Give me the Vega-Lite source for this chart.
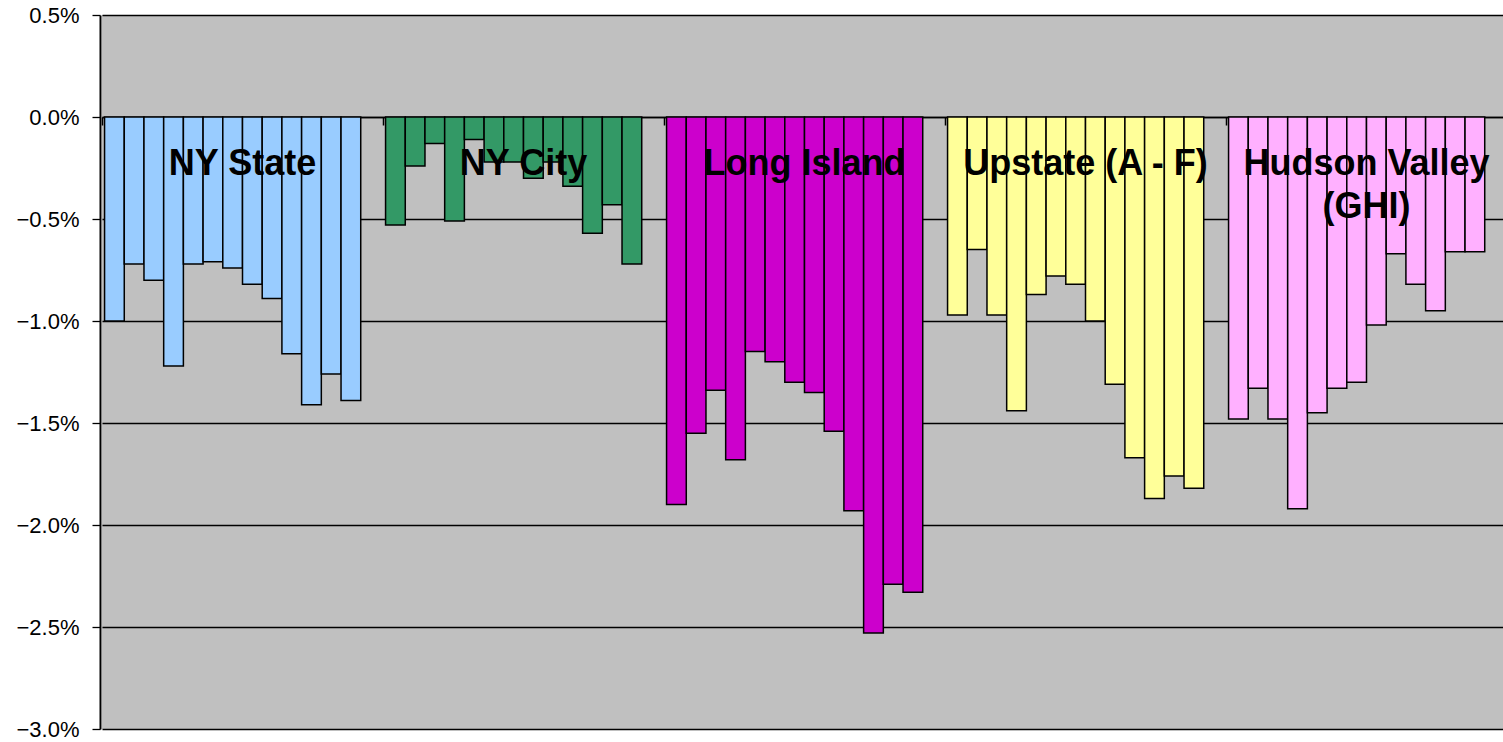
{
  "$schema": "https://vega.github.io/schema/vega-lite/v6.json",
  "width": 1405,
  "height": 714,
  "autosize": {"type": "none"},
  "padding": {"left": 102, "top": 15, "right": 0, "bottom": 13},
  "background": "white",
  "config": {"view": {"fill": "#C0C0C0", "stroke": null}, "font": "Liberation Sans"},
  "datasets": {
    "bars": [
      {"region": "NY State", "i": 1, "value": -0.0100},
      {"region": "NY State", "i": 2, "value": -0.0072},
      {"region": "NY State", "i": 3, "value": -0.0080},
      {"region": "NY State", "i": 4, "value": -0.0122},
      {"region": "NY State", "i": 5, "value": -0.0072},
      {"region": "NY State", "i": 6, "value": -0.0071},
      {"region": "NY State", "i": 7, "value": -0.0074},
      {"region": "NY State", "i": 8, "value": -0.0082},
      {"region": "NY State", "i": 9, "value": -0.0089},
      {"region": "NY State", "i": 10, "value": -0.0116},
      {"region": "NY State", "i": 11, "value": -0.0141},
      {"region": "NY State", "i": 12, "value": -0.0126},
      {"region": "NY State", "i": 13, "value": -0.0139},
      {"region": "NY City", "i": 1, "value": -0.0053},
      {"region": "NY City", "i": 2, "value": -0.0024},
      {"region": "NY City", "i": 3, "value": -0.0013},
      {"region": "NY City", "i": 4, "value": -0.0051},
      {"region": "NY City", "i": 5, "value": -0.0011},
      {"region": "NY City", "i": 6, "value": -0.0022},
      {"region": "NY City", "i": 7, "value": -0.0022},
      {"region": "NY City", "i": 8, "value": -0.0030},
      {"region": "NY City", "i": 9, "value": -0.0022},
      {"region": "NY City", "i": 10, "value": -0.0034},
      {"region": "NY City", "i": 11, "value": -0.0057},
      {"region": "NY City", "i": 12, "value": -0.0043},
      {"region": "NY City", "i": 13, "value": -0.0072},
      {"region": "Long Island", "i": 1, "value": -0.0190},
      {"region": "Long Island", "i": 2, "value": -0.0155},
      {"region": "Long Island", "i": 3, "value": -0.0134},
      {"region": "Long Island", "i": 4, "value": -0.0168},
      {"region": "Long Island", "i": 5, "value": -0.0115},
      {"region": "Long Island", "i": 6, "value": -0.0120},
      {"region": "Long Island", "i": 7, "value": -0.0130},
      {"region": "Long Island", "i": 8, "value": -0.0135},
      {"region": "Long Island", "i": 9, "value": -0.0154},
      {"region": "Long Island", "i": 10, "value": -0.0193},
      {"region": "Long Island", "i": 11, "value": -0.0253},
      {"region": "Long Island", "i": 12, "value": -0.0229},
      {"region": "Long Island", "i": 13, "value": -0.0233},
      {"region": "Upstate (A - F)", "i": 1, "value": -0.0097},
      {"region": "Upstate (A - F)", "i": 2, "value": -0.0065},
      {"region": "Upstate (A - F)", "i": 3, "value": -0.0097},
      {"region": "Upstate (A - F)", "i": 4, "value": -0.0144},
      {"region": "Upstate (A - F)", "i": 5, "value": -0.0087},
      {"region": "Upstate (A - F)", "i": 6, "value": -0.0078},
      {"region": "Upstate (A - F)", "i": 7, "value": -0.0082},
      {"region": "Upstate (A - F)", "i": 8, "value": -0.0100},
      {"region": "Upstate (A - F)", "i": 9, "value": -0.0131},
      {"region": "Upstate (A - F)", "i": 10, "value": -0.0167},
      {"region": "Upstate (A - F)", "i": 11, "value": -0.0187},
      {"region": "Upstate (A - F)", "i": 12, "value": -0.0176},
      {"region": "Upstate (A - F)", "i": 13, "value": -0.0182},
      {"region": "Hudson Valley (GHI)", "i": 1, "value": -0.0148},
      {"region": "Hudson Valley (GHI)", "i": 2, "value": -0.0133},
      {"region": "Hudson Valley (GHI)", "i": 3, "value": -0.0148},
      {"region": "Hudson Valley (GHI)", "i": 4, "value": -0.0192},
      {"region": "Hudson Valley (GHI)", "i": 5, "value": -0.0145},
      {"region": "Hudson Valley (GHI)", "i": 6, "value": -0.0133},
      {"region": "Hudson Valley (GHI)", "i": 7, "value": -0.0130},
      {"region": "Hudson Valley (GHI)", "i": 8, "value": -0.0102},
      {"region": "Hudson Valley (GHI)", "i": 9, "value": -0.0067},
      {"region": "Hudson Valley (GHI)", "i": 10, "value": -0.0082},
      {"region": "Hudson Valley (GHI)", "i": 11, "value": -0.0095},
      {"region": "Hudson Valley (GHI)", "i": 12, "value": -0.0066},
      {"region": "Hudson Valley (GHI)", "i": 13, "value": -0.0066}
    ],
    "labels": [
      {"region": "NY State", "label": "NY State"},
      {"region": "NY City", "label": "NY City"},
      {"region": "Long Island", "label": "Long Island"},
      {"region": "Upstate (A - F)", "label": "Upstate (A - F)"},
      {"region": "Hudson Valley (GHI)", "label": "Hudson Valley\n(GHI)"}
    ]
  },
  "layer": [
    {
      "data": {"name": "bars"},
      "mark": {"type": "bar", "stroke": "black", "strokeWidth": 1.5},
      "encoding": {
        "x": {
          "field": "region",
          "type": "nominal",
          "sort": ["NY State", "NY City", "Long Island", "Upstate (A - F)", "Hudson Valley (GHI)"],
          "scale": {"paddingInner": 0, "paddingOuter": 0},
          "axis": {
            "orient": "bottom",
            "offset": -612,
            "labels": false,
            "title": null,
            "grid": false,
            "domainColor": "black",
            "domainWidth": 1.5,
            "tickColor": "black",
            "tickWidth": 1.5,
            "tickSize": 8,
            "tickBand": "extent"
          }
        },
        "xOffset": {
          "field": "i",
          "type": "ordinal",
          "scale": {"domain": [1, 2, 3, 4, 5, 6, 7, 8, 9, 10, 11, 12, 13, 14], "paddingInner": 0, "paddingOuter": 0.13}
        },
        "y": {
          "field": "value",
          "type": "quantitative",
          "scale": {"domain": [-0.03, 0.005], "nice": false, "zero": false},
          "axis": {
            "values": [0.005, 0, -0.005, -0.01, -0.015, -0.02, -0.025, -0.03],
            "format": ".1%",
            "title": null,
            "offset": 2,
            "grid": true,
            "gridColor": "black",
            "gridWidth": 1.3,
            "gridOpacity": 1,
            "domainColor": "black",
            "domainWidth": 2,
            "tickColor": "black",
            "tickWidth": 1.3,
            "tickSize": 8,
            "labelFont": "Liberation Sans",
            "labelFontSize": 22,
            "labelColor": "black",
            "labelPadding": 13
          }
        },
        "y2": {"datum": 0},
        "color": {
          "field": "region",
          "type": "nominal",
          "scale": {
            "domain": ["NY State", "NY City", "Long Island", "Upstate (A - F)", "Hudson Valley (GHI)"],
            "range": ["#99CCFF", "#339966", "#CC00CC", "#FFFF99", "#FFB0FF"]
          },
          "legend": null
        }
      }
    },
    {
      "data": {"name": "labels"},
      "mark": {
        "type": "text",
        "font": "Liberation Sans",
        "fontWeight": "bold",
        "fontSize": 36,
        "align": "center",
        "baseline": "alphabetic",
        "lineBreak": "\n",
        "lineHeight": 43,
        "color": "black"
      },
      "encoding": {
        "x": {
          "field": "region",
          "type": "nominal",
          "sort": ["NY State", "NY City", "Long Island", "Upstate (A - F)", "Hudson Valley (GHI)"]
        },
        "y": {"datum": -0.00284},
        "text": {"field": "label"}
      }
    }
  ]
}
